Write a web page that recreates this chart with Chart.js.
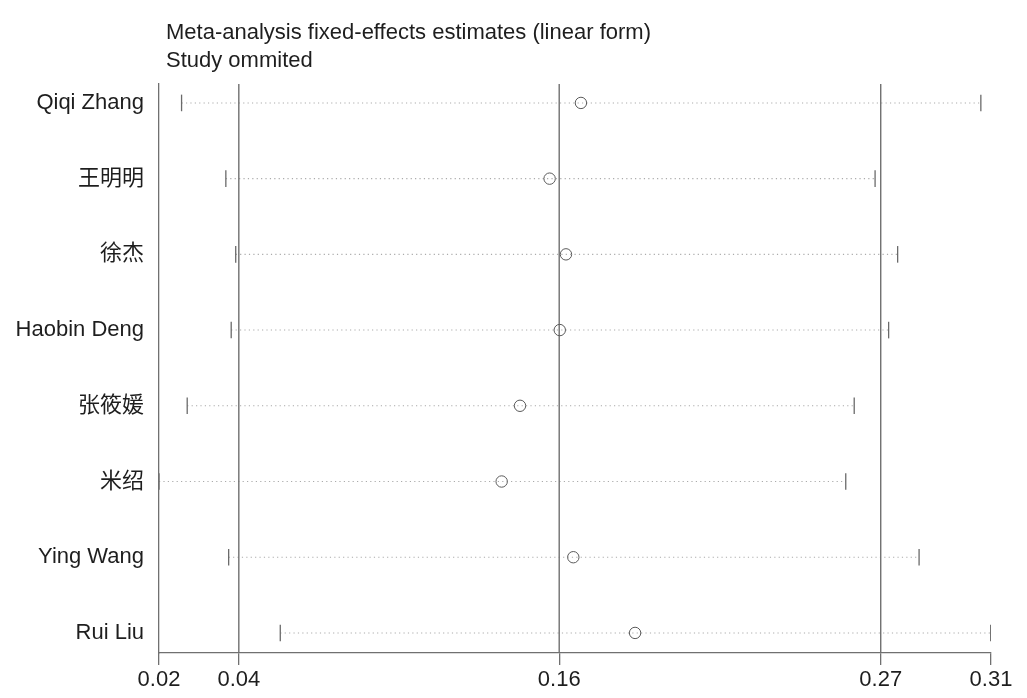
<!DOCTYPE html>
<html>
<head>
<meta charset="utf-8">
<script src="https://cdn.jsdelivr.net/npm/chart.js@4"></script>
<style>
  html, body { margin: 0; padding: 0; background: #ffffff; }
  #wrap { width: 1027px; height: 698px; position: relative; }
</style>
</head>
<body>
<div id="wrap"><canvas id="c" width="1027" height="698"></canvas></div>
<script>
// ---- data ----
const studies = ['Qiqi Zhang', '王明明', '徐杰', 'Haobin Deng', '张筱媛', '米绍', 'Ying Wang', 'Rui Liu'];
const estimates = [0.1656, 0.1545, 0.1603, 0.1581, 0.1440, 0.1375, 0.1629, 0.1848];
const lowerCI   = [0.0240, 0.0397, 0.0432, 0.0416, 0.0260, 0.0160, 0.0407, 0.0590];
const upperCI   = [0.3074, 0.2699, 0.2779, 0.2747, 0.2625, 0.2595, 0.2855, 0.3109];
const overall   = [0.0443, 0.1579, 0.2719];           // overall lower CI, estimate, upper CI
const xTickValues = [0.016, 0.0443, 0.1579, 0.2719, 0.311];
const xTickLabels = ['0.02', '0.04', '0.16', '0.27', '0.31'];
const titleLines = ['Meta-analysis fixed-effects estimates (linear form)', 'Study ommited'];

const FONT = '"Liberation Sans", Arial, "Noto Sans CJK SC", sans-serif';
const Y_MIN = 0.75, Y_MAX = 8.265;
const rowY = studies.map((s, i) => i + 1);

const datasets = [];
// estimates (on top)
datasets.push({
  type: 'scatter',
  data: estimates.map((v, i) => ({ x: v, y: rowY[i] })),
  pointStyle: 'circle', pointRadius: 5.7, pointBorderWidth: 1,
  pointBorderColor: '#5a5a5a', pointBackgroundColor: 'rgba(0,0,0,0)'
});
// CI end marks
datasets.push({
  type: 'scatter',
  data: lowerCI.map((v, i) => ({ x: v, y: rowY[i] })).concat(upperCI.map((v, i) => ({ x: v, y: rowY[i] }))),
  pointStyle: 'line', rotation: 90, pointRadius: 8.3, pointBorderWidth: 1.3,
  pointBorderColor: '#6a6a6a', pointBackgroundColor: '#6a6a6a'
});
// overall reference vertical lines
overall.forEach(v => {
  datasets.push({
    type: 'line',
    data: [{ x: v, y: Y_MIN }, { x: v, y: Y_MAX }],
    borderColor: '#707070', borderWidth: 1.4, pointRadius: 0, fill: false
  });
});
// dotted CI lines
studies.forEach((s, i) => {
  datasets.push({
    type: 'line',
    data: [{ x: lowerCI[i], y: rowY[i] }, { x: upperCI[i], y: rowY[i] }],
    borderColor: '#ababab', borderWidth: 1.1, borderDash: [1.2, 3.2], pointRadius: 0, fill: false
  });
});

const titlePlugin = {
  id: 'titleText',
  afterDraw(chart) {
    const ctx = chart.ctx;
    ctx.save();
    ctx.fillStyle = '#1e1e1e';
    ctx.font = '22px ' + FONT;
    ctx.textBaseline = 'alphabetic';
    ctx.textAlign = 'left';
    ctx.fillText(titleLines[0], chart.chartArea.left + 7, 39);
    ctx.fillText(titleLines[1], chart.chartArea.left + 7, 67);
    ctx.restore();
  }
};

new Chart(document.getElementById('c'), {
  type: 'scatter',
  data: { datasets },
  plugins: [titlePlugin],
  options: {
    responsive: false,
    animation: false,
    devicePixelRatio: 1,
    layout: { padding: { top: 84, right: 36, left: 0, bottom: 0 } },
    plugins: { legend: { display: false }, tooltip: { enabled: false }, title: { display: false } },
    scales: {
      x: {
        type: 'linear',
        min: xTickValues[0], max: xTickValues[xTickValues.length - 1],
        afterBuildTicks: (scale) => { scale.ticks = xTickValues.map(v => ({ value: v })); },
        afterFit: (scale) => { scale.height = 45; },
        ticks: {
          autoSkip: false, maxRotation: 0, padding: 2,
          color: '#1e1e1e', font: { family: FONT, size: 22 },
          callback: (v, i) => xTickLabels[i]
        },
        grid: { display: true, drawOnChartArea: false, drawTicks: true, tickLength: 12, color: '#707070', lineWidth: 1.3 },
        border: { display: true, color: '#707070', width: 1.3 }
      },
      y: {
        type: 'linear', reverse: true,
        min: Y_MIN, max: Y_MAX,
        afterBuildTicks: (scale) => { scale.ticks = rowY.map(v => ({ value: v })); },
        afterFit: (scale) => { scale.width = 159; },
        ticks: {
          autoSkip: false, padding: 15,
          color: '#1e1e1e', font: { family: FONT, size: 22 },
          callback: (v) => studies[Math.round(v) - 1]
        },
        grid: { display: false, drawTicks: false },
        border: { display: true, color: '#707070', width: 1.3 }
      }
    }
  }
});
</script>
</body>
</html>
